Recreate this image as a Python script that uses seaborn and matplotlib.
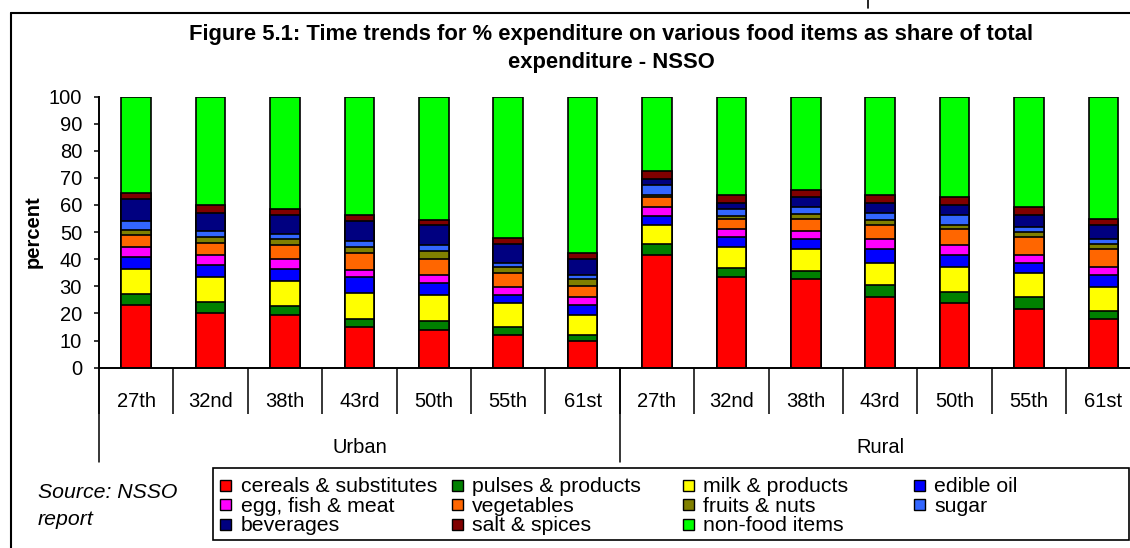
import matplotlib.pyplot as plt
import matplotlib.transforms as mtransforms
from matplotlib.lines import Line2D
from matplotlib.patches import Rectangle
import seaborn as sns
import pandas as pd
import numpy as np

## --------------- DATOS ---------- ##

rounds = ["27th", "32nd", "38th", "43rd", "50th", "55th", "61st"]
sectors = ["Urban", "Rural"]

# 7 rondas urbanas y luego 7 rurales
cereals = [23.2, 20.3, 19.5, 15.1, 13.8, 12.2, 9.8, 41.6, 33.4, 32.7, 26.0, 23.8, 21.7, 17.9]
pulses = [3.8, 3.8, 3.1, 3.0, 3.6, 2.9, 2.2, 4.1, 3.5, 3.0, 4.6, 4.0, 4.3, 3.0]
milk = [9.4, 9.2, 9.3, 9.5, 9.5, 8.7, 7.4, 6.8, 7.6, 7.9, 8.0, 9.3, 8.9, 8.8]
edible_oil = [4.4, 4.4, 4.6, 5.8, 4.4, 3.0, 3.6, 3.6, 3.7, 3.8, 5.1, 4.5, 3.8, 4.5]
egg_fish_meat = [3.7, 3.8, 3.4, 2.8, 3.0, 2.9, 3.0, 3.1, 2.9, 3.0, 3.7, 3.6, 2.8, 2.9]
vegetables = [4.5, 4.3, 5.3, 6.1, 5.9, 5.2, 4.3, 3.7, 3.6, 4.3, 5.1, 5.9, 6.7, 6.5]
fruits_nuts = [1.6, 2.4, 2.2, 2.2, 2.8, 2.2, 2.4, 0.6, 1.1, 1.8, 1.8, 1.7, 1.7, 1.9]
sugar = [3.5, 2.2, 2.0, 2.2, 2.3, 1.5, 1.6, 3.7, 2.7, 2.8, 2.8, 3.6, 1.9, 1.9]
beverages = [8.2, 6.6, 7.0, 7.5, 7.4, 6.9, 5.9, 2.5, 2.4, 3.8, 3.7, 3.6, 4.6, 5.2]
salt_spices = [2.3, 3.1, 2.3, 2.2, 1.6, 2.2, 2.1, 3.0, 2.9, 2.3, 3.0, 2.9, 2.8, 2.3]
non_food = [35.4, 39.9, 41.3, 43.6, 45.7, 52.3, 57.7, 27.3, 36.2, 34.6, 36.2, 37.1, 40.8, 45.1]

items = ["cereals & substitutes", "pulses & products", "milk & products", "edible oil",
         "egg, fish & meat", "vegetables", "fruits & nuts", "sugar",
         "beverages", "salt & spices", "non-food items"]
colors = ["#FF0000", "#008000", "#FFFF00", "#0000FF",
          "#FF00FF", "#FF6600", "#808000", "#3366FF",
          "#000080", "#800000", "#00FF00"]

W, H = 1130, 548

def fx(px):
  return px / W

def fy(py):
  return 1 - py / H

sns.set_style("white")
plt.rcParams['font.family'] = ['Liberation Sans', 'DejaVu Sans']
for k in ["text.color", "axes.labelcolor", "xtick.color", "ytick.color"]:
  plt.rcParams[k] = "black"
FS = 14.5

keys = [f"{s} {r}" for s in sectors for r in rounds]
df = pd.DataFrame(dict(zip(items, [cereals, pulses, milk, edible_oil, egg_fish_meat, vegetables,
                                   fruits_nuts, sugar, beverages, salt_spices, non_food])), index=keys)
acum = df.cumsum(axis=1)

fig = plt.figure(figsize=(W / 100, H / 100), dpi=100)
ax = fig.add_axes([fx(99), fy(367.7), 1041.6 / W, 271.2 / H])

## --------------- BARRAS APILADAS (de arriba hacia abajo) ---------- ##

for item, color in reversed(list(zip(items, colors))):
  d = pd.DataFrame({"ronda": keys, "valor": acum[item].values})
  sns.barplot(data=d, x="ronda", y="valor", order=keys, color=color, saturation=1,
              width=0.4, edgecolor="black", linewidth=1.2, errorbar=None, ax=ax)

ax.set_xlim(-0.5, 13.5)
ax.set_ylim(0, 100)
ax.set_yticks(range(0, 101, 10))
ax.tick_params(axis="y", labelsize=FS, length=3.6, width=1.1, pad=8.6, color="black", left=True)
ax.set_xticks(range(14))
ax.set_xticklabels([])
ax.set_xticks(np.arange(-0.5, 14, 1), minor=True)
ax.tick_params(axis="x", which="major", length=0)
ax.tick_params(axis="x", which="minor", length=33, width=1.1, color="black", bottom=True, direction="out")
ax.set_xlabel("")
ax.set_ylabel("")
sns.despine(ax=ax)
for s in ["left", "bottom"]:
  ax.spines[s].set_color("black")
  ax.spines[s].set_linewidth(1.4)

trans = mtransforms.blended_transform_factory(ax.transData, ax.transAxes)
for i, k in enumerate(keys):
  ax.text(i, -39.6 / 271.2, k.split()[1], transform=trans, ha="center", va="baseline", fontsize=FS)
for x in [-0.5, 6.5, 13.5]:
  ax.plot([x, x], [0, -94 / 271.2], transform=trans, color="black", lw=1.1, clip_on=False)
for j, s in enumerate(sectors):
  ax.text(3 + 7 * j, -85.3 / 271.2, s, transform=trans, ha="center", va="baseline", fontsize=FS)

fig.text(fx(33), fy(232), "percent", rotation=90, ha="center", va="center",
         fontsize=FS, fontweight="bold")

## --------------- TITULO, FUENTE, MARCO ---------- ##

fig.text(fx(611), fy(48.5), "Figure 5.1: Time trends for % expenditure on various food items as share of total\nexpenditure - NSSO",
         ha="center", va="center", fontsize=15.8, fontweight="bold", linespacing=1.45)
fig.text(fx(38), fy(498), "Source: NSSO", ha="left", va="baseline", fontsize=15.3, style="italic")
fig.text(fx(38), fy(525), "report", ha="left", va="baseline", fontsize=15.3, style="italic")

fig.add_artist(Line2D([fx(11), 1], [fy(13), fy(13)], color="black", lw=1.5))
fig.add_artist(Line2D([fx(11), fx(11)], [fy(13), 0], color="black", lw=1.5))
fig.add_artist(Line2D([fx(868), fx(868)], [1, fy(8)], color="black", lw=1.2))

## --------------- LEYENDA (4 columnas iguales) ---------- ##

fig.add_artist(Rectangle((fx(213), fy(540)), fx(1129) - fx(213), fy(468) - fy(540),
                         transform=fig.transFigure, facecolor="white", edgecolor="black", lw=1.2))
filas = [485, 504.5, 524]
for i, (item, color) in enumerate(zip(items, colors)):
  fila, col = divmod(i, 4)
  x0 = 226 + col * 231
  fig.add_artist(Rectangle((fx(x0 - 5.5), fy(filas[fila] + 5.5)), 11 / W, 11 / H,
                           transform=fig.transFigure, facecolor=color, edgecolor="black", lw=1.0))
  fig.text(fx(x0 + 15), fy(filas[fila] + 7), item, ha="left", va="baseline", fontsize=15.3)

plt.savefig("out.png", dpi=100)
